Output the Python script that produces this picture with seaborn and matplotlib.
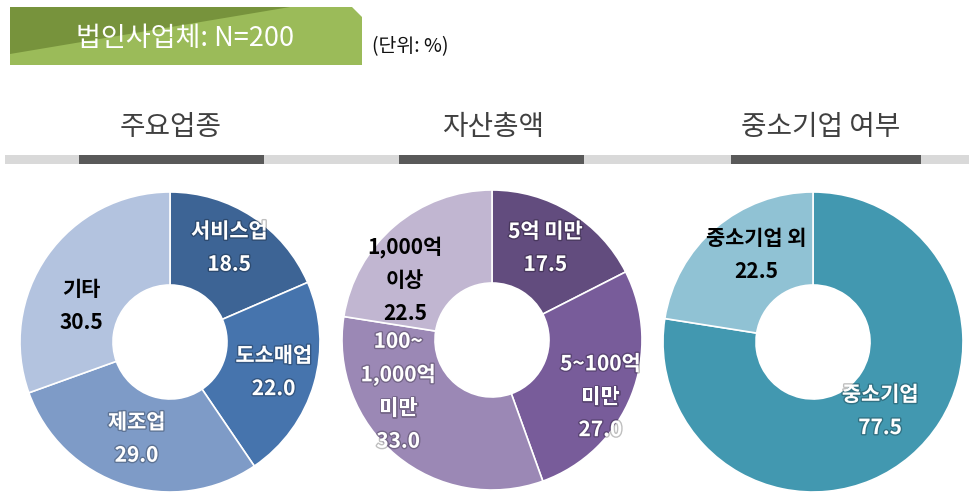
import numpy as np
import matplotlib
matplotlib.use("Agg")
import matplotlib.pyplot as plt
import matplotlib.patheffects as pe
from matplotlib.patches import Polygon, Rectangle
import seaborn as sns

# Chart data
header_text = "법인사업체: N=200"
unit_text = "(단위: %)"
section_titles = ["주요업종", "자산총액", "중소기업 여부"]

industry_labels = ["서비스업", "도소매업", "제조업", "기타"]
industry_values = [18.5, 22.0, 29.0, 30.5]

asset_labels = ["5억 미만", "5~100억\n미만", "100~\n1,000억\n미만", "1,000억\n이상"]
asset_values = [17.5, 27.0, 33.0, 22.5]

sme_labels = ["중소기업", "중소기업 외"]
sme_values = [77.5, 22.5]

# Styling
industry_colors = ["#3d6495", "#4674ad", "#7e9bc7", "#b3c3df"]
asset_colors = ["#624c7e", "#785c9a", "#9b88b5", "#c1b6d1"]
sme_colors = ["#4298b0", "#90c2d4"]
industry_text = ["white", "white", "white", "black"]
asset_text = ["white", "white", "white", "black"]
sme_text = ["white", "black"]

# label nudges in pixels (dx, dy) from the mid-angle position
industry_shift = [(0, 4), (0, 0), (0, 6), (0, -26)]
asset_shift = [(-3, 0), (8, -17), (-25, 32), (-17, -22)]
sme_shift = [(-3, 13), (13, 5)]

W, H = 970, 494
R = 150  # pie radius in pixels

sns.set_theme(style="white")
plt.rcParams['font.family'] = ['Noto Sans CJK KR', 'DejaVu Sans']

fig = plt.figure(figsize=(W / 100, H / 100), dpi=100)
fig.patch.set_facecolor("white")

# background layer in pixel coordinates
bg = fig.add_axes([0, 0, 1, 1])
bg.set_xlim(0, W)
bg.set_ylim(H, 0)
bg.axis('off')

# green header banner
bg.add_patch(Polygon([(10, 7), (352, 7), (362, 17), (362, 65), (10, 65)],
                     closed=True, color="#9bbb59", lw=0))
bg.add_patch(Polygon([(10, 7), (290, 7), (10, 54)], closed=True, color="#77933c", lw=0))
bg.text(185, 38, header_text, color="white", fontsize=19.5, ha="center", va="center")
bg.text(372, 47, unit_text, color="#111111", fontsize=14, ha="left", va="center")

# section titles and divider band
bg.add_patch(Rectangle((5, 155), W - 5, 9, color="#d9d9d9", lw=0))
title_x = [171, 493, 821]
bar_x = [(79, 264), (399, 584), (731, 921)]
for tx, (x0, x1), title in zip(title_x, bar_x, section_titles):
    bg.text(tx, 127, title, color="#404040", fontsize=20, ha="center", va="center")
    bg.add_patch(Rectangle((x0, 155), x1 - x0, 9, color="#595959", lw=0))


def draw_donut(cx, cy, values, labels, colors, text_colors, shifts):
    ax = fig.add_axes([(cx - R) / W, (H - cy - R) / H, 2 * R / W, 2 * R / H])
    wedges, _ = ax.pie(values, colors=colors, startangle=90, counterclock=False,
                       radius=1, wedgeprops=dict(width=0.62, edgecolor="white", linewidth=1.2))
    ax.set_xlim(-1.0, 1.0)
    ax.set_ylim(-1.0, 1.0)
    ax.set_aspect('equal')
    ax.axis('off')
    for w, lab, v, tc, (sx, sy) in zip(wedges, labels, values, text_colors, shifts):
        ang = np.deg2rad((w.theta1 + w.theta2) / 2)
        x = 0.72 * np.cos(ang) + sx / R
        y = 0.72 * np.sin(ang) + sy / R
        effects = [pe.withStroke(linewidth=2, foreground="black", alpha=0.25)] if tc == "white" else []
        ax.text(x, y, f"{lab}\n{v:.1f}", ha="center", va="center", color=tc,
                fontsize=15, fontweight="bold", linespacing=1.7, path_effects=effects)
    return ax


draw_donut(170, 342, industry_values, industry_labels, industry_colors, industry_text, industry_shift)
draw_donut(492, 340, asset_values, asset_labels, asset_colors, asset_text, asset_shift)
draw_donut(813, 342, sme_values, sme_labels, sme_colors, sme_text, sme_shift)

fig.savefig("out.png", dpi=100)
